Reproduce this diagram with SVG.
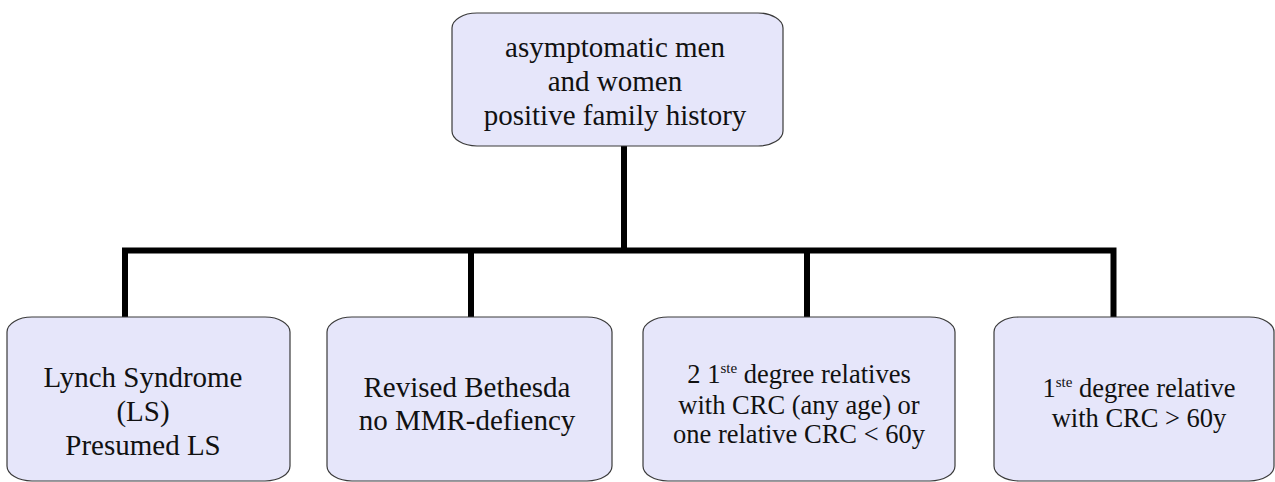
<svg xmlns="http://www.w3.org/2000/svg" width="1275" height="482" viewBox="0 0 1275 482">
<style>
.box{fill:#e6e6fa;stroke:#3a3a3a;stroke-width:1.2}
text{font-family:'Liberation Serif','Times New Roman',Tinos,'DejaVu Serif',serif;fill:#111;text-anchor:middle}
.big{font-size:29px}
.mid{font-size:26.5px}
.sup{font-size:15px}
.conn{fill:none;stroke:#000;stroke-width:6;stroke-linejoin:miter;stroke-linecap:butt}
</style>
<rect width="1275" height="482" fill="#fff"/>
<g id="connectors">
<path class="conn" d="M624 146 V250.5"/>
<path class="conn" d="M125 317 V250.5 H1113.5 V318"/>
<path class="conn" d="M471 250.5 V317"/>
<path class="conn" d="M807 250.5 V317"/>
</g>
<g id="root">
<rect class="box" x="452" y="13" width="331" height="133" rx="25" ry="15"/>
<text class="big" font-family="Liberation Serif, Times New Roman, DejaVu Serif, serif" x="615" y="57">asymptomatic men</text>
<text class="big" font-family="Liberation Serif, Times New Roman, DejaVu Serif, serif" x="615" y="91">and women</text>
<text class="big" font-family="Liberation Serif, Times New Roman, DejaVu Serif, serif" x="615" y="125">positive family history</text>
</g>
<g id="lynch">
<rect class="box" x="7" y="317" width="283" height="164" rx="25" ry="15"/>
<text class="big" font-family="Liberation Serif, Times New Roman, DejaVu Serif, serif" x="143" y="387">Lynch Syndrome</text>
<text class="big" font-family="Liberation Serif, Times New Roman, DejaVu Serif, serif" x="143" y="421">(LS)</text>
<text class="big" font-family="Liberation Serif, Times New Roman, DejaVu Serif, serif" x="143" y="455">Presumed LS</text>
</g>
<g id="bethesda">
<rect class="box" x="327" y="317" width="285" height="164" rx="25" ry="15"/>
<text class="big" font-family="Liberation Serif, Times New Roman, DejaVu Serif, serif" x="467" y="397">Revised Bethesda</text>
<text class="big" font-family="Liberation Serif, Times New Roman, DejaVu Serif, serif" x="467" y="430">no MMR-defiency</text>
</g>
<g id="two-relatives">
<rect class="box" x="643" y="317" width="312" height="164" rx="25" ry="15"/>
<text class="mid" font-family="Liberation Serif, Times New Roman, DejaVu Serif, serif" x="799" y="383">2 1<tspan class="sup" dy="-10">ste</tspan><tspan dy="10"> degree relatives</tspan></text>
<text class="mid" font-family="Liberation Serif, Times New Roman, DejaVu Serif, serif" x="799" y="414">with CRC (any age) or</text>
<text class="mid" font-family="Liberation Serif, Times New Roman, DejaVu Serif, serif" x="799" y="443">one relative CRC &lt; 60y</text>
</g>
<g id="one-relative">
<rect class="box" x="994" y="317" width="280" height="164" rx="25" ry="15"/>
<text class="mid" font-family="Liberation Serif, Times New Roman, DejaVu Serif, serif" x="1139" y="397">1<tspan class="sup" dy="-10">ste</tspan><tspan dy="10"> degree relative</tspan></text>
<text class="mid" font-family="Liberation Serif, Times New Roman, DejaVu Serif, serif" x="1139" y="427">with CRC &gt; 60y</text>
</g>
</svg>
